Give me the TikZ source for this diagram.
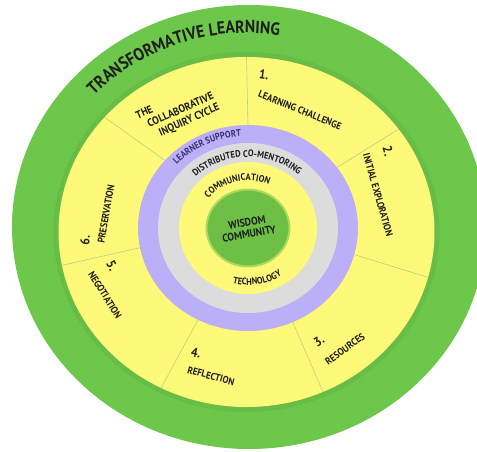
\documentclass[tikz,border=0pt]{standalone}
\usepackage{fontspec}
\setmainfont{PT Sans}[FakeStretch=0.9]
\usetikzlibrary{decorations.text}
\definecolor{ringgreen}{HTML}{6CC74A}
\definecolor{paleyellow}{HTML}{FFF97A}
\definecolor{lavender}{HTML}{BBAFF7}
\definecolor{softgray}{HTML}{DDDCDC}
\definecolor{coregreen}{HTML}{6DBF46}
\definecolor{ink}{HTML}{1E1E1E}
\definecolor{purpleink}{HTML}{3B3275}
\definecolor{dividerline}{HTML}{B6D47C}
\newcommand{\titlefont}{\bfseries\fontsize{17.5}{19}\selectfont}
\newcommand{\ringfont}{\bfseries\fontsize{9.5}{11}\selectfont}

\begin{document}
\begin{tikzpicture}[x=1pt, y=1pt,
		steplabel/.style={font=\bfseries\fontsize{10}{11}\selectfont, text=ink, inner sep=0pt},
		stepnum/.style={font=\bfseries\fontsize{13}{14}\selectfont, text=ink, inner sep=0pt},
		divider/.style={draw=dividerline, line width=0.6pt},
		ringtext/.style={decorate, decoration={text along path, text align=center, text={#1}}}
	]
		\useasboundingbox (-248,-223) rectangle (229,228);
		\coordinate (O) at (0,0);
		\coordinate (Y) at (-1.5,-4);
		% rings
		\fill [ringgreen] (1,1) ellipse [x radius=237, y radius=222];
		\draw [ringgreen!85!black, opacity=0.3, line width=6pt] (Y) ellipse [x radius=190, y radius=177];
		\fill [paleyellow] (Y) ellipse [x radius=188, y radius=175];
		\fill [lavender] (O) ellipse [x radius=110, y radius=103];
		\fill [softgray] (O) ellipse [x radius=90, y radius=85];
		\fill [paleyellow] (O) ellipse [x radius=69, y radius=66];
		\fill [coregreen, draw=coregreen!55!paleyellow, line width=2pt] (O) ellipse [x radius=41.5, y radius=38.5];
		% the seven sectors
		\foreach \a [count=\i] in {90,36,-15,-66,-117,-169,139} {
			\coordinate (in\i) at (\a:110 and 103);
			\coordinate (out\i) at ([shift={(Y)}]\a:188 and 175);
			\draw [divider] (in\i) -- (out\i);
		}
		% curved texts
		\path [ringtext={|\titlefont\color{ink}|TRANSFORMATIVE LEARNING}] (170:210 and 195) arc [start angle=170, end angle=50, x radius=210, y radius=195];
		\path [ringtext={|\ringfont\color{purpleink}|LEARNER SUPPORT}] (172:98.5 and 92) arc [start angle=172, end angle=60, x radius=98.5, y radius=92];
		\path [ringtext={|\ringfont\color{ink}|DISTRIBUTED CO-MENTORING}] (176:76 and 71) arc [start angle=176, end angle=6, x radius=76, y radius=71];
		\path [ringtext={|\ringfont\color{ink}|COMMUNICATION}] (179:51 and 47.5) arc [start angle=179, end angle=29, x radius=51, y radius=47.5];
		\path [ringtext={|\ringfont\color{ink}|TECHNOLOGY}] (-145:61 and 57) arc [start angle=-145, end angle=-15, x radius=61, y radius=57];
		\node [font=\bfseries\fontsize{11}{12}\selectfont, text=ink, align=center, rotate=10] (core) at (O) {WISDOM\\COMMUNITY};
		% step labels
		\node [font=\bfseries\fontsize{11}{12.5}\selectfont, text=ink, align=left, rotate=24] (cycle) at (-70,116) {THE\\\hspace*{7pt}COLLABORATIVE\\\hspace*{14pt}INQUIRY CYCLE};
		\node [stepnum, rotate=-8] (n1) at (16,153) {1.};
		\node [steplabel, rotate=-22] (s1) at (52,118) {LEARNING CHALLENGE};
		\node [stepnum, rotate=-74] (n2) at (140,77) {2.};
		\node [steplabel, rotate=-74] (s2) at (130,33) {INITIAL EXPLORATION};
		\node [stepnum, rotate=30] (n3) at (71,-113) {3.};
		\node [steplabel, rotate=36] (s3) at (97,-121) {RESOURCES};
		\node [stepnum, rotate=-12] (n4) at (-52,-125) {4.};
		\node [steplabel, rotate=-15] (s4) at (-37,-148) {REFLECTION};
		\node [stepnum, rotate=-62] (n5) at (-136,-38) {5.};
		\node [steplabel, rotate=-58] (s5) at (-143,-67) {NEGOTIATION};
		\node [stepnum, rotate=85] (n6) at (-163,-12) {6.};
		\node [steplabel, rotate=80] (s6) at (-142,14) {PRESERVATION};
	\end{tikzpicture}
\end{document}
